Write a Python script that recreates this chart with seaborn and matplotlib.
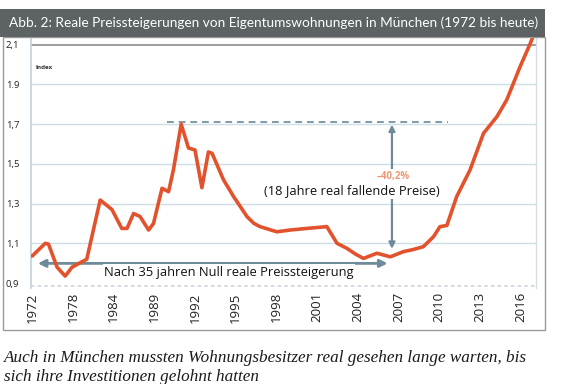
import matplotlib
matplotlib.use("Agg")
import matplotlib.pyplot as plt
from matplotlib.patches import Rectangle, FancyArrowPatch
import seaborn as sns
import pandas as pd

# ---- data (x = position along the axis in tick steps, y = real price index) ----
pos = [0.00, 0.32, 0.40, 0.61, 0.81, 0.98, 1.34, 1.67, 1.96, 2.20, 2.33, 2.49, 2.65,
       2.86, 2.98, 3.19, 3.35, 3.47, 3.66, 3.84, 4.00, 4.17, 4.33, 4.42, 4.70, 4.95,
       5.28, 5.45, 5.60, 6.01, 6.34, 6.75, 7.24, 7.49, 7.73, 7.95, 8.14, 8.47, 8.80,
       9.12, 9.35, 9.61, 9.86, 10.02, 10.19, 10.43, 10.76, 11.09, 11.42, 11.66, 11.99,
       12.24, 12.40]
index_values = [1.036, 1.100, 1.096, 0.980, 0.935, 0.980, 1.020, 1.318, 1.270, 1.175,
                1.175, 1.250, 1.235, 1.167, 1.200, 1.377, 1.360, 1.470, 1.700, 1.580,
                1.570, 1.380, 1.560, 1.553, 1.420, 1.335, 1.234, 1.200, 1.184, 1.158,
                1.167, 1.175, 1.184, 1.100, 1.075, 1.045, 1.024, 1.050, 1.032, 1.058,
                1.068, 1.083, 1.133, 1.184, 1.190, 1.335, 1.470, 1.654, 1.738, 1.822,
                1.990, 2.107, 2.190]
year_labels = ["1972", "1978", "1984", "1989", "1992", "1995", "1998", "2001",
               "2004", "2007", "2010", "2013", "2016"]
y_ticks = [0.9, 1.1, 1.3, 1.5, 1.7, 1.9, 2.1]
y_tick_labels = ["0,9", "1,1", "1,3", "1,5", "1,7", "1.9", "2,1"]
peak_level = 1.712
trough_level = 1.058
flat_level = 0.999

title = "Abb. 2: Reale Preissteigerungen von Eigentumswohnungen in München (1972 bis heute)"
caption1 = "Auch in München mussten Wohnungsbesitzer real gesehen lange warten, bis"
caption2 = "sich ihre Investitionen gelohnt hatten"

df = pd.DataFrame({"pos": pos, "index": index_values})

sns.set_style("white")
plt.rcParams["font.family"] = ["Open Sans", "DejaVu Sans"]

W, H = 568, 384
fig = plt.figure(figsize=(W / 100, H / 100), dpi=100)
fig.patch.set_facecolor("white")

def fx(x):
    return x / W

def fy(y):
    return 1 - y / H

# outer frame and title bar
fig.patches.append(Rectangle((fx(3), fy(330)), fx(545 - 3), (330 - 37) / H,
                             transform=fig.transFigure, fill=False,
                             edgecolor="#9a9a9a", lw=1.0, zorder=0))
fig.patches.append(Rectangle((0, fy(37)), fx(545), 28 / H,
                             transform=fig.transFigure, facecolor="#5d6264",
                             edgecolor="none", zorder=1))

ax = fig.add_axes([fx(31), fy(288), fx(536 - 31), (288 - 38) / H])
ax.set_facecolor("white")

x_left = -0.03
x_right = 12.38
ax.set_xlim(x_left, x_right)
ax.set_ylim(0.875, 2.134)

# grid lines
for v in y_ticks[1:-1]:
    ax.axhline(v, color="#cfdde5", lw=1.0, zorder=1)
ax.axhline(2.1, color="#8c8c8c", lw=1.2, zorder=1)
ax.axhline(0.885, color="#c9d3da", lw=1.2, ls=(0, (2, 2)), zorder=1)

sns.lineplot(data=df, x="pos", y="index", ax=ax, color="#e2532d", lw=2.6,
             zorder=4, legend=False, solid_joinstyle="round", solid_capstyle="round")

for s in ["top", "bottom"]:
    ax.spines[s].set_visible(False)
ax.spines["left"].set_color("#c3d2db")
ax.spines["left"].set_linewidth(1.2)
ax.spines["right"].set_color("#d5dde2")
ax.spines["right"].set_linewidth(1.0)

ax.set_xticks(range(len(year_labels)))
ax.set_xticklabels(year_labels, rotation=90, fontsize=9.5, color="#222222")
ax.set_yticks(y_ticks)
ax.set_yticklabels(y_tick_labels, fontsize=6.8, color="#222222")
ax.tick_params(axis="x", length=0, pad=3)
for lab in ax.get_yticklabels():
    lab.set_horizontalalignment("left")
ax.tick_params(axis="y", length=0, pad=18)
ax.set_xlabel("")
ax.set_ylabel("")

# peak dashed line
ax.plot([3.32, 10.22], [peak_level, peak_level], color="#7f9aa8", lw=1.4,
        ls=(0, (3.5, 2.5)), zorder=3)

arrow_col = "#6e8b99"
# vertical double arrow
ax.add_patch(FancyArrowPatch((8.84, peak_level), (8.84, trough_level),
                             arrowstyle="<|-|>", mutation_scale=9, color=arrow_col,
                             lw=1.6, zorder=3))
# horizontal double arrow
ax.add_patch(FancyArrowPatch((0.07, flat_level), (8.80, flat_level),
                             arrowstyle="<|-|>", mutation_scale=11, color=arrow_col,
                             lw=2.0, zorder=3))

fig.canvas.draw()
renderer = fig.canvas.get_renderer()

def fit(t, width_px):
    bb = t.get_window_extent(renderer)
    t.set_fontsize(t.get_fontsize() * width_px / bb.width)

def data_x(px):
    return x_left + (px - 31) / (536 - 31) * (x_right - x_left)

t1 = ax.text(data_x(229), 0.9 + (283 - 272.5) / 198.5,
             "Nach 35 jahren Null reale Preissteigerung", ha="center", va="center",
             fontsize=10, color="#111111", zorder=6,
             bbox=dict(boxstyle="square,pad=0.12", facecolor="white", edgecolor="none"))
fit(t1, 248)
t2 = ax.text(data_x(352), 0.9 + (283 - 190.5) / 198.5,
             "(18 Jahre real fallende Preise)", ha="center", va="center",
             fontsize=10, color="#111111", zorder=6,
             bbox=dict(boxstyle="square,pad=0.15", facecolor="white", edgecolor="none"))
fit(t2, 174)
t3 = ax.text(data_x(393), 0.9 + (283 - 176.5) / 198.5, "\u201340,2%", ha="center",
             va="center", fontsize=7, color="#eb9a78", fontweight="bold", zorder=6,
             bbox=dict(boxstyle="square,pad=0.25", facecolor="white", edgecolor="none"))
ax.text(x_left + 0.1, 0.9 + (283 - 68) / 198.5, "Index", ha="left", va="center",
        fontsize=4.5, fontweight="bold", color="#333333", zorder=6)

tt = fig.text(fx(9), fy(23), title, ha="left", va="center", color="white",
              fontsize=10, family=["Lato", "DejaVu Sans"], zorder=3)
fit(tt, 528)

c1 = fig.text(fx(4), fy(358), caption1, ha="left", va="center", color="#1a1a1a",
              fontsize=12, style="italic", family=["Liberation Serif", "DejaVu Serif"])
fit(c1, 522)
c2 = fig.text(fx(4), fy(377), caption2, ha="left", va="center", color="#1a1a1a",
              fontsize=c1.get_fontsize(), style="italic",
              family=["Liberation Serif", "DejaVu Serif"])

fig.savefig("out.png", dpi=100)
